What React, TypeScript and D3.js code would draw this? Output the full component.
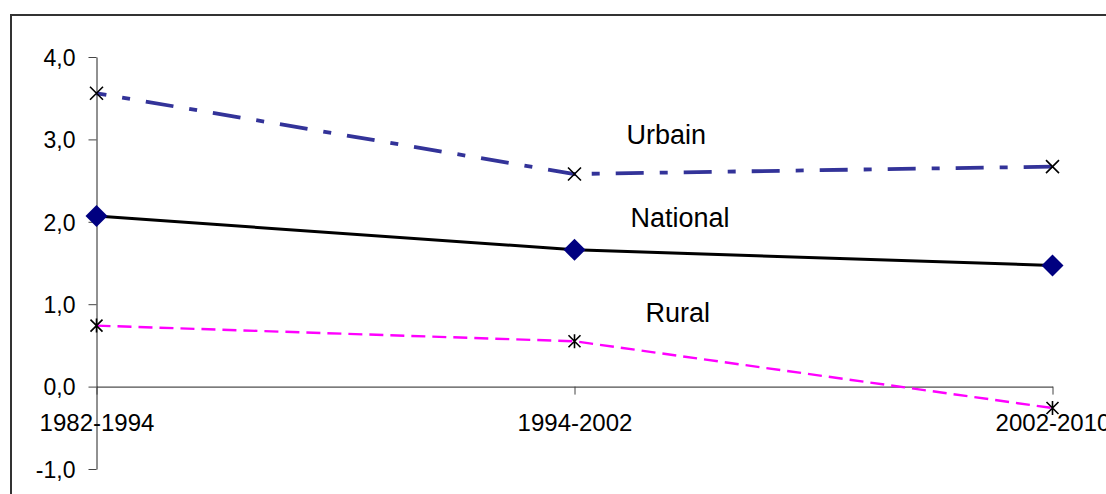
import { useEffect, useRef } from 'react'
import * as d3 from 'd3'

const periods = ['1982-1994', '1994-2002', '2002-2010']
const urbain = [3.56, 2.58, 2.67]
const national = [2.07, 1.66, 1.47]
const rural = [0.74, 0.55, -0.26]
const yTicks = [-1, 0, 1, 2, 3, 4]

const WIDTH = 1106
const HEIGHT = 494
const FONT = '"Liberation Sans", Arial, sans-serif'

export default function App() {
  const svgRef = useRef<SVGSVGElement>(null)

  useEffect(() => {
    if (!svgRef.current) return
    const svg = d3.select(svgRef.current)
    svg.selectAll('*').remove()

    // outer chart frame, runs off the right and bottom edges
    svg.append('rect')
      .attr('x', 11)
      .attr('y', 15)
      .attr('width', WIDTH + 40)
      .attr('height', HEIGHT + 40)
      .attr('fill', 'white')
      .attr('stroke', '#333')
      .attr('stroke-width', 2)

    const x = d3.scalePoint<string>()
      .domain(periods)
      .range([96.5, 1052.5])

    const y = d3.scaleLinear()
      .domain([-1, 4])
      .range([469, 57])

    // y axis
    const yAxis = svg.append('g')
      .attr('transform', 'translate(96.5,0)')
      .call(d3.axisLeft(y)
        .tickValues(yTicks)
        .tickSize(8)
        .tickSizeOuter(0)
        .tickPadding(13)
        .tickFormat(d => (d as number).toFixed(1).replace('.', ',')))
    yAxis.select('.domain').attr('stroke', '#222')
    yAxis.selectAll('.tick line').attr('stroke', '#444')
    yAxis.selectAll('text')
      .attr('font-family', FONT)
      .attr('font-size', 23)
      .attr('fill', '#000')
      .attr('dy', '0.36em')

    // x axis at zero
    const xAxis = svg.append('g')
      .attr('transform', `translate(0,${y(0)})`)
      .call(d3.axisBottom(x).tickSize(8).tickSizeOuter(0))
    xAxis.select('.domain').attr('stroke', '#222')
    xAxis.selectAll('.tick line').attr('stroke', '#444')
    xAxis.selectAll('text')
      .attr('font-family', FONT)
      .attr('font-size', 24)
      .attr('fill', '#000')
      .attr('y', 44)
      .attr('dy', 0)

    const line = d3.line<number>()
      .x((_, i) => x(periods[i]) as number)
      .y(d => y(d))

    // series lines
    svg.append('path')
      .datum(urbain)
      .attr('d', line)
      .attr('fill', 'none')
      .attr('stroke', '#333399')
      .attr('stroke-width', 3.8)
      .attr('stroke-dasharray', '28,16,8,16')
      .attr('stroke-dashoffset', -50)

    svg.append('path')
      .datum(national)
      .attr('d', line)
      .attr('fill', 'none')
      .attr('stroke', '#000')
      .attr('stroke-width', 3)

    svg.append('path')
      .datum(rural)
      .attr('d', line)
      .attr('fill', 'none')
      .attr('stroke', '#ff00ff')
      .attr('stroke-width', 2.4)
      .attr('stroke-dasharray', '14,7')

    // markers
    const cross = (s: number) => `M${-s},${-s}L${s},${s}M${-s},${s}L${s},${-s}`
    const star = (s: number) => `${cross(s)}M0,${-s - 1}L0,${s + 1}`

    svg.append('g').selectAll('path')
      .data(urbain)
      .enter().append('path')
      .attr('transform', (d, i) => `translate(${x(periods[i])},${y(d)})`)
      .attr('d', cross(6.5))
      .attr('stroke', '#000')
      .attr('stroke-width', 1.6)
      .attr('fill', 'none')

    svg.append('g').selectAll('path')
      .data(national)
      .enter().append('path')
      .attr('transform', (d, i) => `translate(${x(periods[i])},${y(d)})`)
      .attr('d', 'M0,-11L11,0L0,11L-11,0Z')
      .attr('fill', '#000080')

    svg.append('g').selectAll('path')
      .data(rural)
      .enter().append('path')
      .attr('transform', (d, i) => `translate(${x(periods[i])},${y(d)})`)
      .attr('d', star(6))
      .attr('stroke', '#000')
      .attr('stroke-width', 1.6)
      .attr('fill', 'none')

    // series labels near the middle period
    const mid = x(periods[1]) as number
    const labels = [
      { text: 'Urbain', dx: 52, y: 144 },
      { text: 'National', dx: 56, y: 227 },
      { text: 'Rural', dx: 71, y: 322 },
    ]
    svg.append('g').selectAll('text')
      .data(labels)
      .enter().append('text')
      .attr('x', d => mid + d.dx)
      .attr('y', d => d.y)
      .attr('font-family', FONT)
      .attr('font-size', 27)
      .attr('fill', '#000')
      .text(d => d.text)
  }, [])

  return (
    <div style={{ position: 'fixed', left: 0, top: 0 }}>
      <svg ref={svgRef} width={WIDTH} height={HEIGHT} style={{ display: 'block', background: 'white' }} />
    </div>
  )
}
